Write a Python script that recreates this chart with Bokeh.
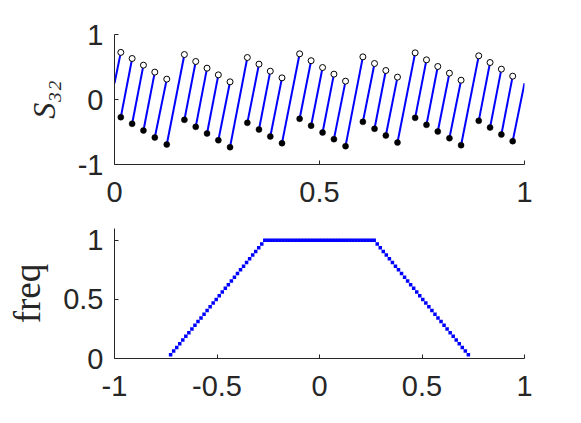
from bokeh.plotting import figure
from bokeh.layouts import column
from bokeh.models import Range1d, FixedTicker, CustomJSTickFormatter
from bokeh.embed import file_html
from bokeh.resources import INLINE

# ---- top panel data: discontinuity points of S_32 ----
jump_x = [0.0154, 0.0430, 0.0706, 0.0983, 0.1275, 0.1705, 0.1981, 0.2257,
          0.2533, 0.2818, 0.3240, 0.3524, 0.3800, 0.4085, 0.4515, 0.4795,
          0.5075, 0.5352, 0.5635, 0.6058, 0.6342, 0.6618, 0.6902, 0.7333,
          0.7609, 0.7885, 0.8169, 0.8453, 0.8884, 0.9160, 0.9436, 0.9712]
left_limit = [0.725, 0.631, 0.528, 0.421, 0.313, 0.692, 0.585, 0.482,
              0.379, 0.272, 0.646, 0.544, 0.436, 0.333, 0.703, 0.597,
              0.492, 0.390, 0.282, 0.656, 0.554, 0.446, 0.344, 0.718,
              0.610, 0.508, 0.405, 0.297, 0.672, 0.569, 0.467, 0.359]
value_at = [-0.272, -0.374, -0.477, -0.585, -0.692, -0.313, -0.421, -0.523,
            -0.626, -0.733, -0.359, -0.462, -0.569, -0.672, -0.297, -0.403,
            -0.508, -0.610, -0.718, -0.344, -0.451, -0.554, -0.662, -0.282,
            -0.390, -0.492, -0.595, -0.703, -0.328, -0.431, -0.538, -0.641]
x_start, y_start = 0.0, 0.251
x_end, y_end = 1.0, 0.251

top_xticks = [0, 0.5, 1]
top_yticks = [-1, 0, 1]
top_ylabel = "S\u2083\u2082"

# ---- bottom panel data: frequency (right half, mirrored) ----
freq_half_x = [0.0000, 0.0148, 0.0296, 0.0445, 0.0593, 0.0741, 0.0889, 0.1037,
               0.1186, 0.1334, 0.1482, 0.1630, 0.1778, 0.1927, 0.2075, 0.2223,
               0.2371, 0.2519, 0.2668, 0.2816, 0.2964, 0.3112, 0.3260, 0.3409,
               0.3557, 0.3705, 0.3853, 0.4001, 0.4150, 0.4298, 0.4446, 0.4594,
               0.4742, 0.4891, 0.5039, 0.5187, 0.5335, 0.5483, 0.5632, 0.5780,
               0.5928, 0.6076, 0.6224, 0.6373, 0.6521, 0.6669, 0.6817, 0.6965,
               0.7114, 0.7262]
freq_half_counts = [32, 32, 32, 32, 32, 32, 32, 32, 32, 32, 32, 32, 32, 32, 32,
                    32, 32, 32, 32, 31, 30, 29, 28, 27, 26, 25, 24, 23, 22, 21,
                    20, 19, 18, 17, 16, 15, 14, 13, 12, 11, 10, 9, 8, 7, 6, 5,
                    4, 3, 2, 1]
freq_total = 32

bot_xticks = [-1, -0.5, 0, 0.5, 1]
bot_yticks = [0, 0.5, 1]
bot_ylabel = "freq"

freq_x = [-v for v in reversed(freq_half_x[1:])] + freq_half_x
freq_counts = list(reversed(freq_half_counts[1:])) + freq_half_counts
freq_y = [c / freq_total for c in freq_counts]

seg_x0 = [x_start] + jump_x
seg_y0 = [y_start] + value_at
seg_x1 = jump_x + [x_end]
seg_y1 = left_limit + [y_end]

BLUE = "#0000ff"
AX = "#262626"
TICK_FONT = "Liberation Sans"


def style(p, xticks, yticks):
    p.outline_line_color = None
    p.grid.visible = False
    p.background_fill_color = "white"
    p.border_fill_color = "white"
    p.xaxis.ticker = FixedTicker(ticks=xticks)
    p.yaxis.ticker = FixedTicker(ticks=yticks)
    for ax in (p.xaxis[0], p.yaxis[0]):
        ax.formatter = CustomJSTickFormatter(code="return String(tick);")
        ax.axis_line_color = AX
        ax.axis_line_width = 1
        ax.major_tick_line_color = AX
        ax.major_tick_in = 4
        ax.major_tick_out = 0
        ax.minor_tick_line_color = None
        ax.major_label_text_font = TICK_FONT
        ax.major_label_text_font_size = "29px"
        ax.major_label_text_color = AX
    p.xaxis.major_label_standoff = 17
    p.yaxis.major_label_standoff = 11


top = figure(frame_width=410, frame_height=130, output_backend="svg",
             toolbar_location=None, x_range=Range1d(0, 1), y_range=Range1d(-1, 1),
             min_border_left=114, min_border_right=49, min_border_top=34,
             min_border_bottom=54)
style(top, top_xticks, top_yticks)
top.segment(seg_x0, seg_y0, seg_x1, seg_y1, line_color=BLUE, line_width=2)
top.scatter(jump_x, left_limit, marker="circle", size=6, fill_color="white",
            line_color="black", line_width=1)
top.scatter(jump_x, value_at, marker="circle", size=6, fill_color="black",
            line_color="black", line_width=0.5)
top.yaxis.axis_label = top_ylabel
top.yaxis.axis_label_text_font = "Liberation Serif"
top.yaxis.axis_label_text_font_style = "italic"
top.yaxis.axis_label_text_font_size = "32px"
top.yaxis.axis_label_text_color = AX
top.yaxis.axis_label_standoff = 13

bot = figure(frame_width=410, frame_height=130, output_backend="svg",
             toolbar_location=None, x_range=Range1d(-1, 1), y_range=Range1d(0, 1.1),
             min_border_left=114, min_border_right=49, min_border_top=10,
             min_border_bottom=45)
style(bot, bot_xticks, bot_yticks)
bot.scatter(freq_x, freq_y, marker="square", size=3.5, fill_color=BLUE,
            line_color=None)
bot.yaxis.axis_label = bot_ylabel
bot.yaxis.axis_label_text_font = "Liberation Serif"
bot.yaxis.axis_label_text_font_style = "normal"
bot.yaxis.axis_label_text_font_size = "37px"
bot.yaxis.axis_label_text_color = AX
bot.yaxis.axis_label_standoff = 12

layout = column(top, bot, spacing=0)
open("out.html", "w").write(file_html(layout, INLINE))
